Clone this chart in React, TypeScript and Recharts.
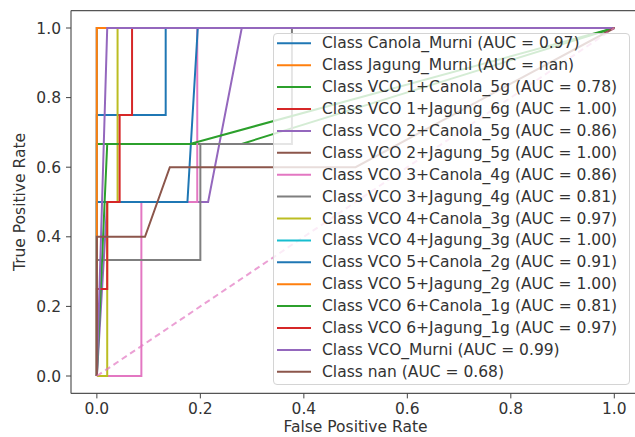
import React from 'react';
import { LineChart, Line, XAxis, YAxis, Legend, ReferenceLine } from 'recharts';

const xTicks = [0, 0.2, 0.4, 0.6, 0.8, 1.0];
const yTicks = [0, 0.2, 0.4, 0.6, 0.8, 1.0];

const classNames = [
  'Canola_Murni', 'Jagung_Murni', 'VCO 1+Canola_5g', 'VCO 1+Jagung_6g',
  'VCO 2+Canola_5g', 'VCO 2+Jagung_5g', 'VCO 3+Canola_4g', 'VCO 3+Jagung_4g',
  'VCO 4+Canola_3g', 'VCO 4+Jagung_3g', 'VCO 5+Canola_2g', 'VCO 5+Jagung_2g',
  'VCO 6+Canola_1g', 'VCO 6+Jagung_1g', 'VCO_Murni', 'nan',
];
const aucLabels = [
  '0.97', 'nan', '0.78', '1.00', '0.86', '1.00', '0.86', '0.81',
  '0.97', '1.00', '0.91', '1.00', '0.81', '0.97', '0.99', '0.68',
];

// fpr / tpr of each class
const fprCanolaMurni = [0, 0, 0.133, 0.133, 1];
const tprCanolaMurni = [0, 0.75, 0.75, 1, 1];
const fprJagungMurni: number[] = [];
const tprJagungMurni: number[] = [];
const fprVco1Canola = [0, 0, 0.28, 1];
const tprVco1Canola = [0, 0.667, 0.667, 1];
const fprVco1Jagung = [0, 0, 1];
const tprVco1Jagung = [0, 1, 1];
const fprVco2Canola = [0, 0.02, 0.215, 0.28, 1];
const tprVco2Canola = [0, 0.5, 0.5, 1, 1];
const fprVco2Jagung = [0, 0, 1];
const tprVco2Jagung = [0, 1, 1];
const fprVco3Canola = [0, 0.086, 0.086, 0.194, 0.194, 1];
const tprVco3Canola = [0, 0, 0.5, 0.5, 1, 1];
const fprVco3Jagung = [0, 0, 0.2, 0.2, 0.377, 0.377, 1];
const tprVco3Jagung = [0, 0.333, 0.333, 0.667, 0.667, 1, 1];
const fprVco4Canola = [0, 0.02, 0.02, 0.04, 0.04, 1];
const tprVco4Canola = [0, 0, 0.5, 0.5, 1, 1];
const fprVco4Jagung = [0, 0, 1];
const tprVco4Jagung = [0, 1, 1];
const fprVco5Canola = [0, 0, 0.175, 0.195, 1];
const tprVco5Canola = [0, 0.5, 0.5, 1, 1];
const fprVco5Jagung = [0, 0, 1];
const tprVco5Jagung = [0, 1, 1];
const fprVco6Canola = [0, 0.02, 0.18, 1];
const tprVco6Canola = [0, 0.667, 0.667, 1];
const fprVco6Jagung = [0, 0, 0.02, 0.02, 0.044, 0.044, 0.068, 0.068, 1];
const tprVco6Jagung = [0, 0.25, 0.25, 0.5, 0.5, 0.75, 0.75, 1, 1];
const fprVcoMurni = [0, 0.02, 1];
const tprVcoMurni = [0, 1, 1];
const fprNan = [0, 0, 0.093, 0.141, 0.5, 1];
const tprNan = [0, 0.4, 0.4, 0.6, 0.6, 1];

const chanceFpr = [0, 1];
const chanceTpr = [0, 1];

const fprs = [
  fprCanolaMurni, fprJagungMurni, fprVco1Canola, fprVco1Jagung, fprVco2Canola, fprVco2Jagung,
  fprVco3Canola, fprVco3Jagung, fprVco4Canola, fprVco4Jagung, fprVco5Canola, fprVco5Jagung,
  fprVco6Canola, fprVco6Jagung, fprVcoMurni, fprNan,
];
const tprs = [
  tprCanolaMurni, tprJagungMurni, tprVco1Canola, tprVco1Jagung, tprVco2Canola, tprVco2Jagung,
  tprVco3Canola, tprVco3Jagung, tprVco4Canola, tprVco4Jagung, tprVco5Canola, tprVco5Jagung,
  tprVco6Canola, tprVco6Jagung, tprVcoMurni, tprNan,
];

// matplotlib tab10 cycle
const palette = ['#1f77b4', '#ff7f0e', '#2ca02c', '#d62728', '#9467bd', '#8c564b', '#e377c2', '#7f7f7f', '#bcbd22', '#17becf'];

const toPoints = (xs: number[], ys: number[]) => xs.map((x, i) => ({ x, y: ys[i] }));

const series = classNames.map((c, i) => ({
  name: `Class ${c} (AUC = ${aucLabels[i]})`,
  color: palette[i % 10],
  data: toPoints(fprs[i], tprs[i]),
}));
const chanceLine = toPoints(chanceFpr, chanceTpr);

const FONT = '"DejaVu Sans", sans-serif';
const fmt = (v: number) => v.toFixed(1);

const RocLegend = () => (
  <div style={{
    width: 357, height: 352, boxSizing: 'border-box', background: 'rgba(255,255,255,0.8)',
    border: '1px solid #d4d4d4', borderRadius: 4,
  }}>
    <svg width={355} height={350} style={{ display: 'block' }}>
      {series.map((s, i) => {
        const y = 9.3 + i * 21.9;
        return (
          <g key={s.name}>
            <line x1={3} x2={37} y1={y} y2={y} stroke={s.color} strokeWidth={2} />
            <text x={48} y={y} dominantBaseline="central" fontFamily={FONT} fontSize={15.5} fill="#333">{s.name}</text>
          </g>
        );
      })}
    </svg>
  </div>
);

// x label: fixed baseline under the tick labels, centred on the full axes box
const XLabel = () => (
  <text x={355.5} y={432} textAnchor="middle" fontFamily={FONT} fontSize={15.5} fill="#333">
    False Positive Rate
  </text>
);

export default function App() {
  return (
    <div style={{ position: 'absolute', left: 0, top: 0, width: 635, height: 437, overflow: 'hidden', background: '#fff' }}>
      <LineChart width={635} height={437} margin={{ top: 10.6, right: 0, bottom: 0, left: 0 }}>
        <XAxis
          type="number" dataKey="x" domain={[-0.05, 1.04]} ticks={xTicks} tickFormatter={fmt}
          allowDataOverflow axisLine={{ stroke: '#555', strokeWidth: 1.2 }} tickSize={5} tickMargin={5} height={43.6}
          stroke="#444" tick={{ fill: '#333', fontSize: 15.5, fontFamily: FONT }}
          label={{ content: XLabel }}
        />
        <YAxis
          type="number" domain={[-0.05, 1.05]} ticks={yTicks} tickFormatter={fmt}
          allowDataOverflow axisLine={{ stroke: '#555', strokeWidth: 1.2 }} tickSize={5} tickMargin={5} width={71}
          stroke="#444" tick={{ fill: '#333', fontSize: 15.5, fontFamily: FONT }}
          label={{ value: 'True Positive Rate', angle: -90, position: 'insideLeft', offset: 19, fill: '#333', fontSize: 15.5, fontFamily: FONT, style: { textAnchor: 'middle' } }}
        />
        <ReferenceLine y={1.05} stroke="#555" strokeWidth={1.2} />
        {series.map((s) => (
          <Line
            key={s.name} name={s.name} data={s.data} dataKey="y" type="linear"
            stroke={s.color} strokeWidth={2} dot={false} activeDot={false} isAnimationActive={false}
          />
        ))}
        <Line
          data={chanceLine} dataKey="y" type="linear" stroke="#e377c2" strokeOpacity={0.7}
          strokeWidth={2} strokeDasharray="6 4" dot={false} legendType="none" isAnimationActive={false}
        />
        <Legend
          layout="vertical" align="center" verticalAlign="middle"
          wrapperStyle={{ left: 273, top: 33, width: 357, height: 352 }}
          content={() => <RocLegend />}
        />
      </LineChart>
    </div>
  );
}
